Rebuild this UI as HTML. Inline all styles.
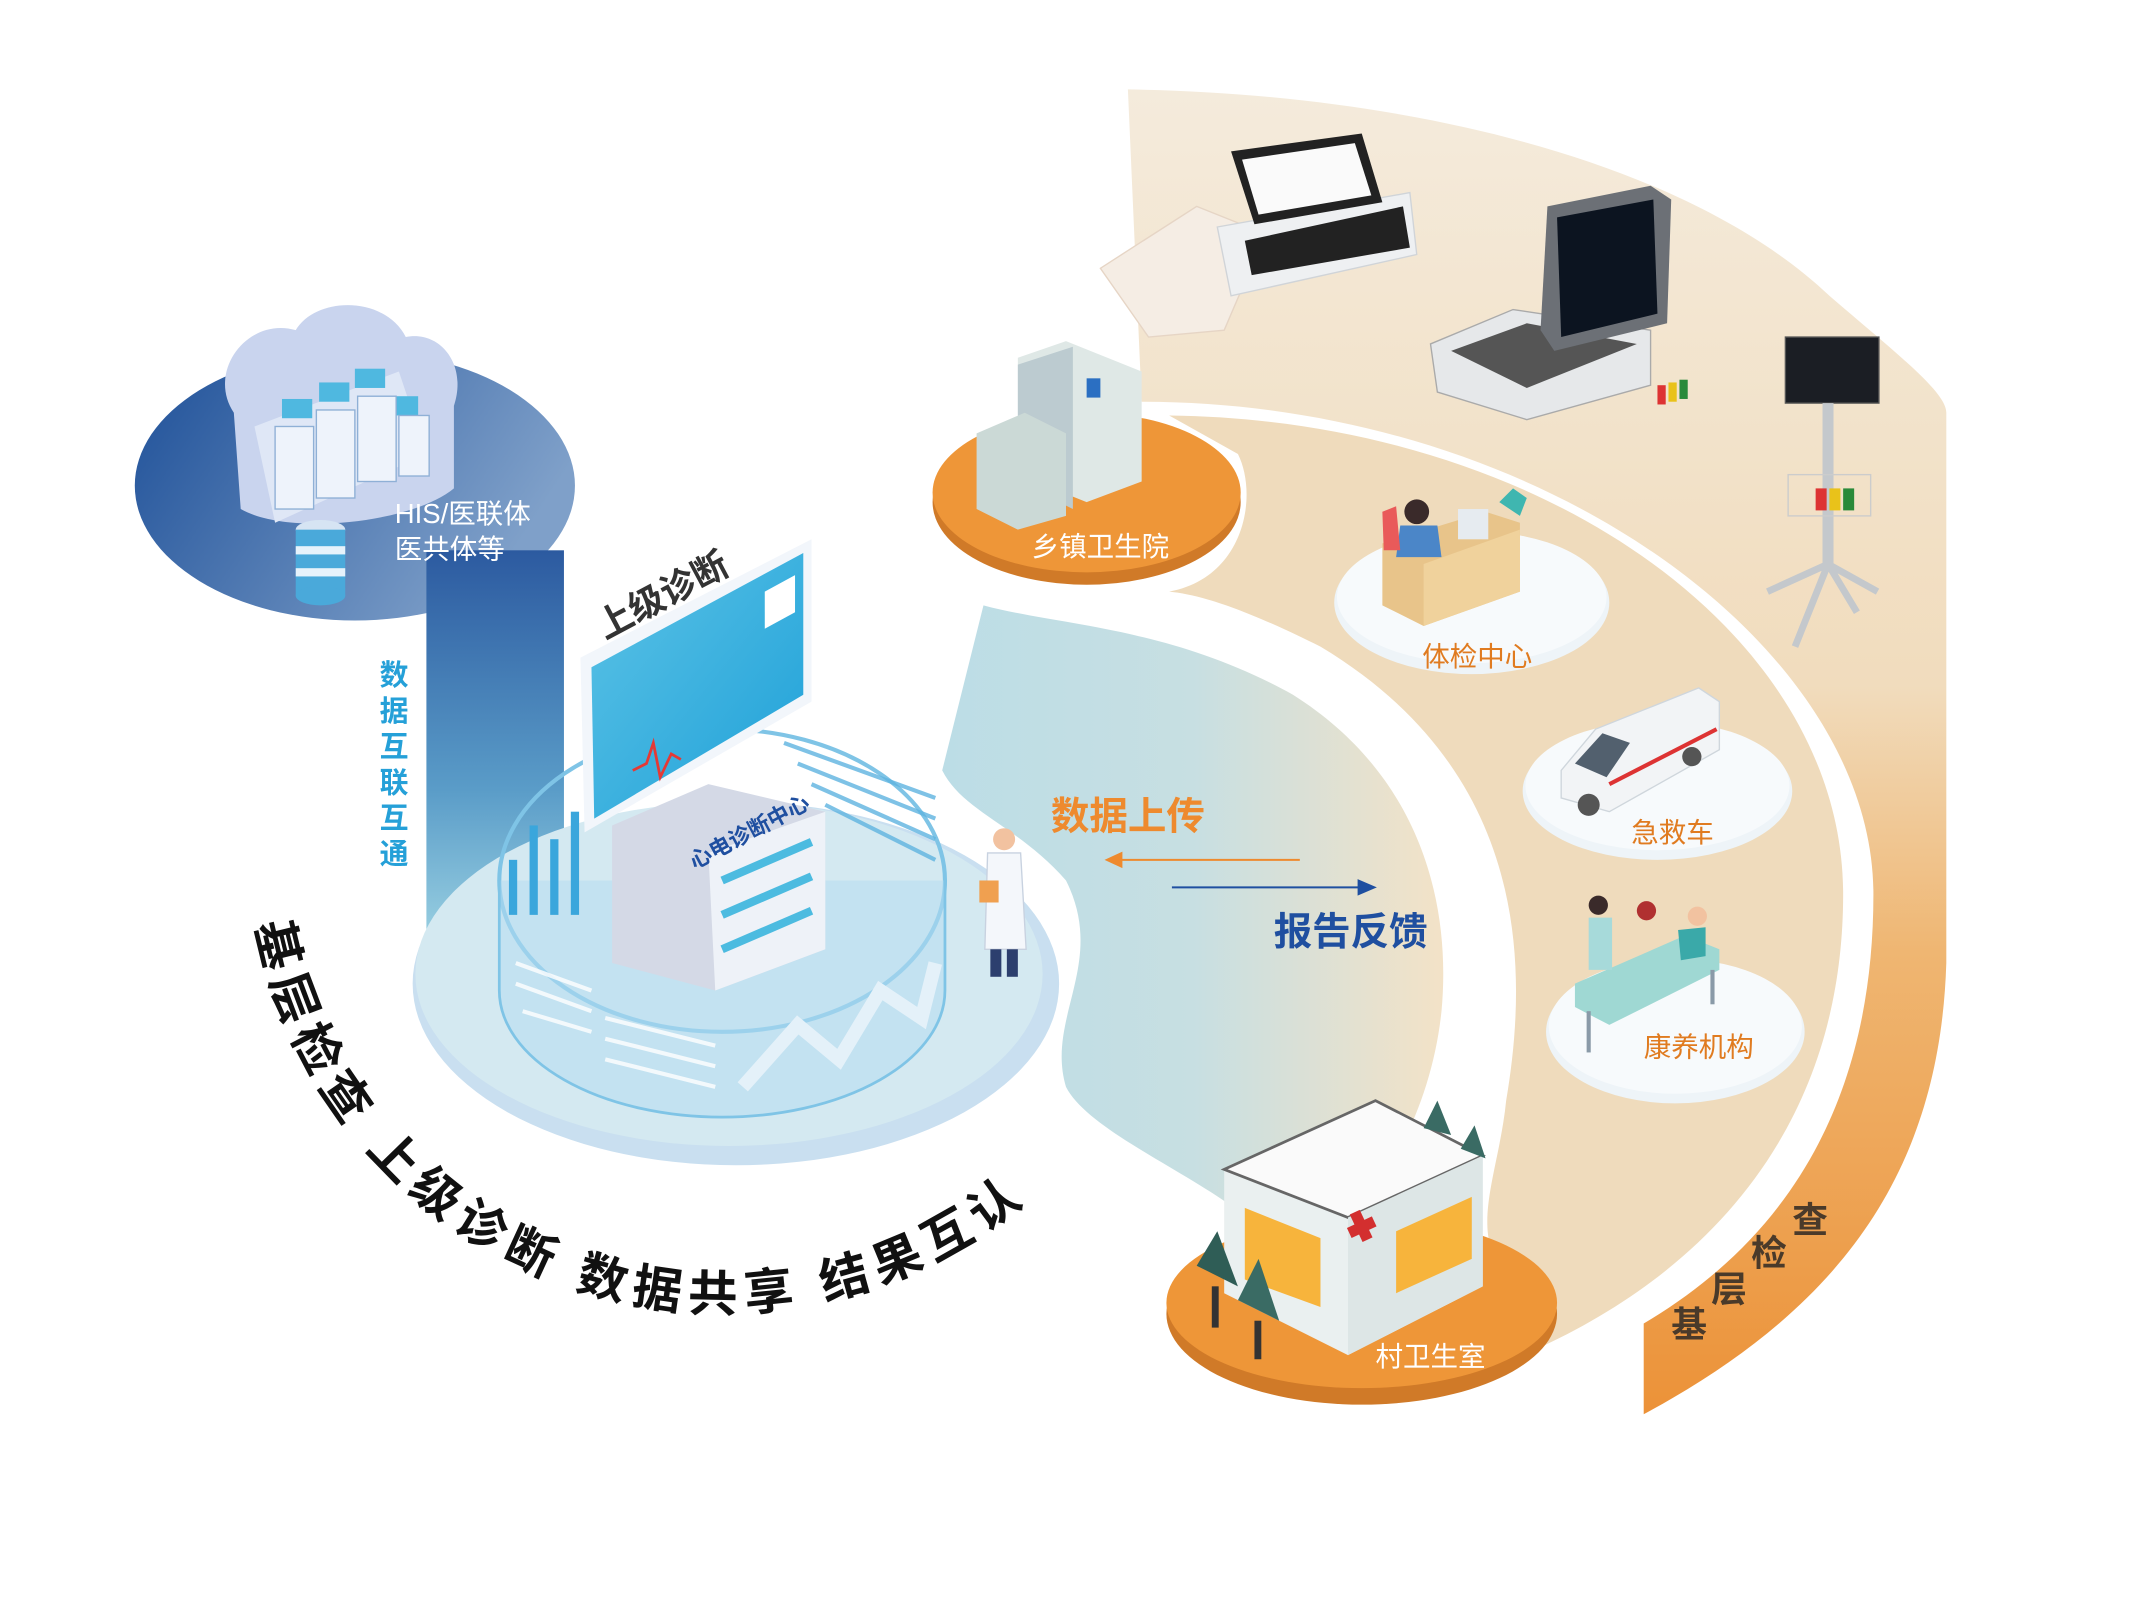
<!DOCTYPE html>
<html><head><meta charset="utf-8"><style>
html,body{margin:0;padding:0;background:#fff}
svg{display:block}
text{font-family:"Liberation Sans","Noto Sans CJK SC",sans-serif}
</style></head><body>
<svg width="2132" height="1600" viewBox="0 0 1550 1163" preserveAspectRatio="none" xmlns="http://www.w3.org/2000/svg">
<defs>
<linearGradient id="gOut" x1="0" y1="0" x2="0" y2="1">
<stop offset="0" stop-color="#f4ebdc"/><stop offset="0.45" stop-color="#f1dcbd"/><stop offset="0.65" stop-color="#efb672"/><stop offset="1" stop-color="#ec9238"/></linearGradient>
<linearGradient id="gBlue" x1="0" y1="0" x2="1" y2="0">
<stop offset="0" stop-color="#bcdde6"/><stop offset="0.5" stop-color="#c7dfe2"/><stop offset="1" stop-color="#f3e2c7"/></linearGradient>
<linearGradient id="gCloud" x1="0" y1="0" x2="1" y2="0.4">
<stop offset="0" stop-color="#1d4f98"/><stop offset="1" stop-color="#7fa0c9"/></linearGradient>
<linearGradient id="gCol" x1="0" y1="0" x2="0" y2="1">
<stop offset="0" stop-color="#2c5aa0"/><stop offset="0.6" stop-color="#5a9cc8"/><stop offset="1" stop-color="#9dd3e3"/></linearGradient>
<linearGradient id="gScreen" x1="0" y1="0" x2="1" y2="1">
<stop offset="0" stop-color="#5cc3e6"/><stop offset="1" stop-color="#1ea0d8"/></linearGradient>
<path id="arcT" d="M186,672 A345,345 0 0 0 785,835"/>
</defs>

<path d="M820,65 C1030,68 1230,120 1330,215 C1380,258 1415,285 1415,300 L1415,700 C1410,860 1330,955 1195,1028 L1195,962 C1300,900 1362,800 1362,650 C1362,470 1120,292 830,292 Z" fill="url(#gOut)"/>
<path d="M850,302 C1120,305 1340,460 1340,650 C1340,820 1240,930 1100,988 L1090,920 C1070,890 1090,850 1095,800 C1112,700 1110,560 960,470 C900,440 870,432 850,430 C905,420 915,360 900,330 Z" fill="#efdbbc"/>
<path d="M715,440 C770,455 850,455 940,505 C1035,565 1055,660 1048,735 C1040,810 1005,860 975,905 L900,880 C860,850 790,820 775,790 C760,740 805,700 775,640 C740,600 700,590 685,560 Z" fill="url(#gBlue)"/>

<ellipse cx="258" cy="353" rx="160" ry="98" fill="url(#gCloud)"/>
<rect x="310" y="400" width="100" height="290" fill="url(#gCol)"/>
<path d="M170,300 C150,270 180,230 215,240 C230,215 280,215 295,245 C320,240 340,265 330,295 L330,355 C300,380 210,390 175,370 Z" fill="#c9d4ee"/>
<path d="M185,310 L290,270 L310,330 L200,380 Z" fill="#dfe7f6"/>
<g fill="#4fb8e0">
<rect x="205" y="290" width="22" height="14"/><rect x="232" y="278" width="22" height="14"/><rect x="258" y="268" width="22" height="14"/><rect x="284" y="288" width="20" height="14"/>
</g>
<g fill="#eef3fb" stroke="#8fb0d6" stroke-width="1">
<rect x="200" y="310" width="28" height="60"/><rect x="230" y="298" width="28" height="64"/><rect x="260" y="288" width="28" height="62"/><rect x="290" y="302" width="22" height="44"/>
</g>
<g><ellipse cx="233" cy="385" rx="18" ry="7" fill="#d6e4f3"/><rect x="215" y="385" width="36" height="48" fill="#4aa9da"/><rect x="215" y="397" width="36" height="6" fill="#e6f2fb"/><rect x="215" y="413" width="36" height="6" fill="#e6f2fb"/><ellipse cx="233" cy="433" rx="18" ry="7" fill="#4aa9da"/></g>
<text x="287" y="380" font-size="20" fill="#fff">HIS/医联体</text>
<text x="287" y="406" font-size="20" fill="#fff">医共体等</text>
<g font-size="21" font-weight="bold" fill="#25a0d8">
<text x="276" y="498">数</text><text x="276" y="524">据</text><text x="276" y="550">互</text><text x="276" y="576">联</text><text x="276" y="602">互</text><text x="276" y="628">通</text></g>

<ellipse cx="535" cy="715" rx="235" ry="132" fill="#c9dff0"/>
<ellipse cx="530" cy="708" rx="228" ry="125" fill="#d4e9f1"/>
<ellipse cx="525" cy="640" rx="162" ry="110" fill="none" stroke="#7fc4e6" stroke-width="3"/>
<path d="M363,640 L363,720 A162,92 0 0 0 687,720 L687,640" fill="#b5dcf0" fill-opacity="0.55" stroke="#7fc4e6" stroke-width="2"/>
<g stroke="#fff" stroke-width="3" opacity="0.8">
<line x1="375" y1="700" x2="430" y2="720"/><line x1="375" y1="715" x2="430" y2="735"/><line x1="380" y1="735" x2="430" y2="750"/><line x1="440" y1="740" x2="520" y2="760"/><line x1="440" y1="755" x2="520" y2="775"/><line x1="440" y1="770" x2="520" y2="790"/></g>
<g stroke="#5fb4e0" stroke-width="3" opacity="0.8">
<line x1="570" y1="540" x2="680" y2="580"/><line x1="580" y1="555" x2="680" y2="595"/><line x1="590" y1="570" x2="680" y2="610"/><line x1="600" y1="585" x2="680" y2="625"/></g>
<g fill="#3aa6dc"><rect x="370" y="625" width="6" height="40"/><rect x="385" y="600" width="6" height="65"/><rect x="400" y="610" width="6" height="55"/><rect x="415" y="590" width="6" height="75"/></g>
<path d="M540,790 L580,745 L610,770 L640,720 L670,740 L680,700" fill="none" stroke="#e4f1f9" stroke-width="10"/>
<path d="M445,600 L515,570 L600,590 L600,690 L520,720 L445,700 Z" fill="#d4d9e6"/>
<path d="M515,620 L600,590 L600,690 L520,720 Z" fill="#eef2f8"/>
<g stroke="#4cbbe0" stroke-width="6"><line x1="525" y1="640" x2="590" y2="612"/><line x1="525" y1="665" x2="590" y2="637"/><line x1="525" y1="690" x2="590" y2="662"/></g>
<text x="505" y="632" font-size="16" font-weight="bold" fill="#1f4fa0" transform="rotate(-28 505 632)">心电诊断中心</text>
<path d="M422,478 L590,392 L590,510 L425,605 Z" fill="#f2f6fb"/>
<path d="M430,485 L584,402 L584,505 L432,595 Z" fill="url(#gScreen)"/>
<path d="M556,430 L578,418 L578,445 L556,457 Z" fill="#fff"/>
<path d="M460,560 L470,555 L475,540 L480,565 L488,548 L495,552" fill="none" stroke="#e53935" stroke-width="2"/>
<text x="440" y="465" font-size="26" font-weight="bold" fill="#333" transform="rotate(-28 440 465)">上级诊断</text>
<circle cx="730" cy="610" r="8" fill="#f2c2a0"/><path d="M718,620 L742,620 L746,690 L716,690 Z" fill="#f4f7fb" stroke="#c8d2e0"/><rect x="720" y="690" width="8" height="20" fill="#2c3f6e"/><rect x="732" y="690" width="8" height="20" fill="#2c3f6e"/><rect x="712" y="640" width="14" height="16" fill="#f0a050"/>

<text x="764" y="603" font-size="28" font-weight="bold" fill="#ee8a2e">数据上传</text>
<line x1="812" y1="625" x2="945" y2="625" stroke="#ee8a2e" stroke-width="1.5"/><path d="M803,625 L816,619 L816,631 Z" fill="#ee8a2e"/>
<line x1="852" y1="645" x2="990" y2="645" stroke="#1f4fa0" stroke-width="1.5"/><path d="M1001,645 L987,639 L987,651 Z" fill="#1f4fa0"/>
<text x="926" y="687" font-size="28" font-weight="bold" fill="#1f4fa0">报告反馈</text>

<ellipse cx="790" cy="365" rx="112" ry="60" fill="#d07a28"/>
<ellipse cx="790" cy="358" rx="112" ry="58" fill="#ee9638"/>
<path d="M740,260 L775,248 L830,270 L830,350 L790,365 L740,345 Z" fill="#dfe8e6"/>
<path d="M740,265 L780,252 L780,370 L740,350 Z" fill="#bccbd0"/>
<path d="M710,315 L745,300 L775,315 L775,375 L740,385 L710,370 Z" fill="#cbd9d6"/>
<rect x="790" y="275" width="10" height="14" fill="#2b6fc2"/>
<text x="750" y="404" font-size="20" fill="#fff">乡镇卫生院</text>

<ellipse cx="1070" cy="438" rx="100" ry="52" fill="#eef4f8"/><ellipse cx="1070" cy="434" rx="98" ry="48" fill="#f7fafc"/>
<path d="M1005,395 L1080,372 L1105,380 L1105,430 L1035,455 L1005,440 Z" fill="#e8c48a"/>
<path d="M1035,410 L1105,385 L1105,430 L1035,455 Z" fill="#f0d29c"/>
<circle cx="1030" cy="372" r="9" fill="#3a2a2a"/><path d="M1018,382 L1045,382 L1048,405 L1015,405 Z" fill="#4b86c8"/><path d="M1005,372 L1015,368 L1018,400 L1006,400 Z" fill="#e95a5a"/>
<rect x="1060" y="370" width="22" height="22" fill="#e6ebf0"/><path d="M1090,365 L1100,355 L1110,362 L1105,375 Z" fill="#3fb6b0"/>
<text x="1034" y="484" font-size="20" fill="#e07b20">体检中心</text>

<ellipse cx="1205" cy="575" rx="98" ry="50" fill="#eef4f8"/><ellipse cx="1205" cy="571" rx="96" ry="47" fill="#f7fafc"/>
<path d="M1135,560 L1160,530 L1235,500 L1250,510 L1250,545 L1170,590 L1135,580 Z" fill="#f2f4f6" stroke="#cfd6dc"/>
<path d="M1145,555 L1165,533 L1185,540 L1168,565 Z" fill="#52606e"/>
<line x1="1170" y1="570" x2="1248" y2="530" stroke="#d33" stroke-width="3"/>
<circle cx="1155" cy="585" r="8" fill="#555"/><circle cx="1230" cy="550" r="7" fill="#555"/>
<text x="1186" y="612" font-size="20" fill="#e07b20">急救车</text>

<ellipse cx="1218" cy="750" rx="94" ry="52" fill="#eef4f8"/><ellipse cx="1218" cy="746" rx="92" ry="49" fill="#f7fafc"/>
<path d="M1145,715 L1225,680 L1250,690 L1250,705 L1170,745 L1145,732 Z" fill="#9fd8d3"/>
<circle cx="1162" cy="658" r="7" fill="#3a2a2a"/><path d="M1155,667 L1172,667 L1172,705 L1155,705 Z" fill="#a7dada"/>
<circle cx="1197" cy="662" r="7" fill="#b03030"/><circle cx="1234" cy="666" r="7" fill="#f2c2a0"/><path d="M1220,676 L1240,674 L1240,695 L1222,698 Z" fill="#3aa9a9"/>
<line x1="1155" y1="735" x2="1155" y2="765" stroke="#8a9aa8" stroke-width="3"/><line x1="1245" y1="705" x2="1245" y2="730" stroke="#8a9aa8" stroke-width="3"/>
<text x="1195" y="768" font-size="20" fill="#e07b20">康养机构</text>

<ellipse cx="990" cy="955" rx="142" ry="66" fill="#d07a28"/><ellipse cx="990" cy="947" rx="142" ry="62" fill="#ee9638"/>
<path d="M890,850 L1000,800 L1078,840 L1078,935 L980,985 L890,940 Z" fill="#eaf0f0"/>
<path d="M890,850 L1000,800 L1078,840 L980,885 Z" fill="#fafafa" stroke="#666" stroke-width="2"/>
<path d="M980,885 L1078,840 L1078,935 L980,985 Z" fill="#dde6e6"/>
<path d="M905,878 L960,900 L960,950 L905,930 Z" fill="#f7b43c"/><path d="M1015,895 L1070,870 L1070,915 L1015,940 Z" fill="#f7b43c"/>
<rect x="980" y="888" width="20" height="8" fill="#d32f2f" transform="rotate(-25 990 892)"/><rect x="986" y="880" width="8" height="22" fill="#d32f2f" transform="rotate(-25 990 892)"/>
<path d="M870,920 L885,895 L900,935 Z" fill="#2f5d56"/><path d="M900,945 L915,915 L930,960 Z" fill="#3a6b64"/><rect x="881" y="935" width="5" height="30" fill="#333"/><rect x="912" y="960" width="5" height="28" fill="#333"/>
<path d="M1035,820 L1045,800 L1055,825 Z" fill="#3a6b64"/><path d="M1062,835 L1072,818 L1080,842 Z" fill="#3a6b64"/>
<text x="1000" y="993" font-size="20" fill="#fff">村卫生室</text>

<path d="M800,195 L870,150 L920,170 L890,240 L835,245 Z" fill="#f5ede4" stroke="#e6d5c5"/>
<path d="M885,165 L1025,140 L1030,185 L895,215 Z" fill="#eef0f2" stroke="#d0d4d8"/>
<path d="M905,175 L1020,150 L1025,180 L910,200 Z" fill="#222"/>
<path d="M895,110 L990,97 L1005,147 L912,163 Z" fill="#222"/><path d="M903,116 L985,104 L997,142 L915,156 Z" fill="#fafafa"/>
<path d="M1040,250 L1100,225 L1200,240 L1200,280 L1110,305 L1045,285 Z" fill="#e6e8ea" stroke="#aaa"/>
<path d="M1055,255 L1110,235 L1190,250 L1110,282 Z" fill="#555"/>
<path d="M1125,150 L1200,135 L1215,145 L1212,235 L1130,255 L1120,240 Z" fill="#6c7076"/><path d="M1132,158 L1202,145 L1205,228 L1135,245 Z" fill="#0c1420"/>
<rect x="1205" y="280" width="6" height="14" fill="#d33"/><rect x="1213" y="278" width="6" height="14" fill="#e9c21a"/><rect x="1221" y="276" width="6" height="14" fill="#2a8a3a"/>
<rect x="1298" y="245" width="68" height="48" fill="#1b1e24" stroke="#555"/>
<rect x="1325" y="293" width="8" height="120" fill="#c4c8cc"/>
<rect x="1300" y="345" width="60" height="30" fill="none" stroke="#ccc"/>
<rect x="1320" y="355" width="8" height="16" fill="#d33"/><rect x="1330" y="355" width="8" height="16" fill="#e9c21a"/><rect x="1340" y="355" width="8" height="16" fill="#2a8a3a"/>
<path d="M1285,430 L1329,410 L1365,430 M1329,410 L1305,470 M1329,410 L1350,445" fill="none" stroke="#c4c8cc" stroke-width="5"/>

<g font-size="26" font-weight="bold" fill="#4a3a2a">
<text x="1215" y="972">基</text><text x="1244" y="946">层</text><text x="1273" y="920">检</text><text x="1303" y="896">查</text></g>

<text font-size="36" font-weight="bold" fill="#111"><textPath href="#arcT" textLength="715" lengthAdjust="spacing">基层检查 上级诊断 数据共享 结果互认</textPath></text>
</svg>
</body></html>
